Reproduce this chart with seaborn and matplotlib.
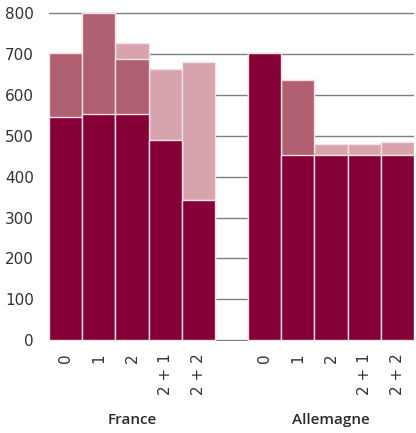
import matplotlib
matplotlib.use("Agg")
import matplotlib.pyplot as plt
import matplotlib.transforms as mtransforms
import seaborn as sns
import pandas as pd

# Data
groups = ["France", "Allemagne"]
tick_labels = ["0", "1", "2", "2 + 1", "2 + 2"]
france_dark = [545, 553, 553, 490, 343]
france_mid = [157, 249, 136, 0, 0]
france_light = [0, 0, 38, 174, 337]
allemagne_dark = [702, 452, 452, 452, 452]
allemagne_mid = [0, 184, 0, 0, 0]
allemagne_light = [0, 0, 27, 27, 32]
yticks = [0, 100, 200, 300, 400, 500, 600, 700, 800]

DARK = "#840036"
MID = "#b05f70"
LIGHT = "#d7a3ac"
EDGE = "#f6e0e5"

rows = []
for g, dark, mid, light in [("France", france_dark, france_mid, france_light),
                            ("Allemagne", allemagne_dark, allemagne_mid, allemagne_light)]:
    for lab, d, m, l in zip(tick_labels, dark, mid, light):
        rows.append({"key": f"{g}|{lab}", "dark": d, "mid_cum": d + m, "total": d + m + l})
df = pd.DataFrame(rows)
order = [f"France|{t}" for t in tick_labels] + ["gap"] + [f"Allemagne|{t}" for t in tick_labels]

sns.set_theme(style="white")
plt.rcParams["font.family"] = ["DejaVu Sans"]

fig = plt.figure(figsize=(4.16, 4.33), dpi=100)
ax = fig.add_axes([49 / 416, (433 - 341) / 433, 365 / 416, (341 - 9.3) / 433])

for col, color in [("total", LIGHT), ("mid_cum", MID), ("dark", DARK)]:
    sns.barplot(data=df, x="key", y=col, order=order, color=color, width=1.0,
                edgecolor=EDGE, linewidth=1.0, ax=ax, saturation=1, zorder=3)

ax.set_ylim(-2.5, 810)
ax.set_xlim(-0.5, 10.5)
ax.set_yticks(yticks)
ax.set_yticklabels([str(v) for v in yticks])
ax.yaxis.grid(True, color="#7f7f7f", linewidth=1.0, zorder=0)
ax.set_axisbelow(True)
for s in ax.spines.values():
    s.set_visible(False)
ax.tick_params(axis="y", length=0, pad=11, labelsize=11, labelcolor="#333333")
ax.tick_params(axis="x", length=0, pad=9, labelsize=11, labelcolor="#333333")

xt = list(range(5)) + list(range(6, 11))
ax.set_xticks(xt)
ax.set_xticklabels(tick_labels + tick_labels, rotation=90, va="top", ha="center")
ax.set_xlabel("")
ax.set_ylabel("")

trans = mtransforms.blended_transform_factory(ax.transData, fig.transFigure)
for i, g in enumerate(groups):
    ax.text(2 + 6 * i, 1 - 420 / 433, g, transform=trans, ha="center", va="center",
            fontsize=11, fontweight="semibold", color="#2b2b2b",
            family=["Open Sans", "DejaVu Sans"])

fig.savefig("out.png", dpi=100)
